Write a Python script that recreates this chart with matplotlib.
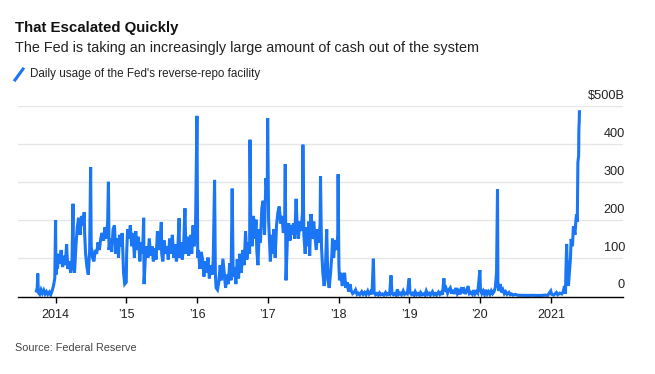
import pandas as pd
import numpy as np
import matplotlib
matplotlib.use('Agg')
import matplotlib.pyplot as plt
import matplotlib.dates as mdates
import matplotlib.transforms as mtransforms
from matplotlib.lines import Line2D

# daily usage of the Fed's overnight reverse-repo facility, $ billions
# (roughly weekly plus the quarter-end spikes)
days_2013 = ["09-23", "09-27", "09-30", "10-03", "10-10", "10-17", "10-24", "10-31",
             "11-07", "11-14", "11-21", "11-29", "12-06", "12-13", "12-20", "12-27", "12-31"]
vals_2013 = [12, 20, 58, 8, 3, 15, 6, 14, 4, 10, 3, 9, 2, 12, 25, 45, 198]

days_2014 = ["01-02", "01-07", "01-10", "01-15", "01-22", "01-29", "01-31", "02-05", "02-12",
             "02-19", "02-26", "02-28", "03-05", "03-12", "03-19", "03-26", "03-31", "04-03",
             "04-08", "04-15", "04-22", "04-29", "04-30", "05-07", "05-14", "05-21", "05-28",
             "05-30", "06-04", "06-11", "06-18", "06-25", "06-30", "07-03", "07-10", "07-17",
             "07-24", "07-31", "08-07", "08-14", "08-21", "08-28", "09-05", "09-12", "09-19",
             "09-26", "09-30", "10-03", "10-10", "10-17", "10-24", "10-31", "11-07", "11-14",
             "11-21", "11-26", "12-03", "12-10", "12-17", "12-23", "12-31"]
vals_2014 = [55, 95, 70, 110, 85, 120, 95, 75, 105, 80, 135, 110, 70, 90, 60, 95, 242, 75,
             60, 130, 180, 205, 190, 160, 210, 185, 220, 165, 110, 75, 55, 120, 339, 130, 100,
             90, 120, 110, 140, 120, 150, 165, 145, 180, 150, 195, 300, 120, 150, 115, 175,
             185, 110, 150, 100, 160, 130, 165, 60, 30, 35]

days_2015 = ["01-02", "01-07", "01-14", "01-21", "01-28", "02-04", "02-11", "02-18", "02-25",
             "03-04", "03-11", "03-18", "03-25", "03-31", "04-02", "04-08", "04-15", "04-22",
             "04-29", "05-06", "05-13", "05-20", "05-27", "06-03", "06-10", "06-17", "06-24",
             "06-30", "07-02", "07-08", "07-15", "07-22", "07-29", "08-05", "08-12", "08-19",
             "08-26", "09-02", "09-09", "09-16", "09-23", "09-30", "10-02", "10-09", "10-16",
             "10-23", "10-30", "11-04", "11-11", "11-18", "11-25", "11-30", "12-04", "12-11",
             "12-16", "12-23", "12-31"]
vals_2015 = [110, 175, 150, 185, 130, 165, 100, 170, 120, 155, 90, 140, 110, 205, 30, 95,
             130, 100, 150, 105, 130, 90, 125, 95, 170, 120, 140, 194, 110, 90, 145, 110, 130,
             95, 150, 110, 160, 100, 135, 90, 120, 204, 100, 140, 95, 125, 230, 110, 155, 105,
             130, 160, 110, 185, 130, 150, 474]

days_2016 = ["01-04", "01-08", "01-15", "01-22", "01-29", "02-05", "02-12", "02-19", "02-26",
             "02-29", "03-04", "03-11", "03-18", "03-24", "03-31", "04-04", "04-08", "04-15",
             "04-22", "04-29", "05-06", "05-13", "05-20", "05-27", "06-03", "06-10", "06-17",
             "06-24", "06-30", "07-05", "07-12", "07-19", "07-26", "08-02", "08-09", "08-16",
             "08-23", "08-31", "09-07", "09-14", "09-21", "09-28", "09-30", "10-04", "10-11",
             "10-18", "10-25", "10-31", "11-04", "11-10", "11-17", "11-23", "11-30", "12-07",
             "12-14", "12-21", "12-28", "12-30"]
vals_2016 = [100, 120, 70, 115, 95, 50, 90, 60, 100, 75, 45, 80, 55, 90, 305, 60, 20, 15,
             35, 80, 40, 97, 60, 20, 55, 30, 85, 40, 282, 50, 75, 30, 95, 45, 110, 60, 120, 80,
             170, 95, 140, 110, 411, 190, 130, 210, 150, 200, 120, 80, 175, 140, 230, 250, 160,
             310, 260, 468]

days_2017 = ["01-04", "01-09", "01-13", "01-20", "01-27", "01-31", "02-07", "02-14", "02-21",
             "02-28", "03-07", "03-14", "03-21", "03-28", "03-31", "04-04", "04-11", "04-18",
             "04-25", "04-28", "05-05", "05-12", "05-19", "05-26", "05-31", "06-07", "06-14",
             "06-21", "06-28", "06-30", "07-05", "07-12", "07-19", "07-26", "07-31", "08-04",
             "08-11", "08-18", "08-25", "08-31", "09-07", "09-14", "09-21", "09-27", "09-29",
             "10-04", "10-11", "10-18", "10-25", "10-31", "11-06", "11-13", "11-20", "11-27",
             "11-30", "12-06", "12-13", "12-20", "12-27", "12-29"]
vals_2017 = [200, 140, 90, 160, 110, 175, 100, 185, 220, 235, 190, 210, 165, 200, 347, 40,
             150, 190, 145, 185, 160, 190, 150, 255, 190, 150, 195, 170, 220, 398, 160, 110,
             180, 130, 195, 105, 215, 150, 195, 160, 120, 175, 140, 190, 315, 130, 60, 25, 80,
             175, 40, 20, 60, 110, 150, 100, 145, 120, 160, 320]

days_2018 = ["01-02", "01-05", "01-12", "01-19", "01-26", "01-31", "02-07", "02-14", "02-21",
             "02-28", "03-07", "03-14", "03-21", "03-29", "04-06", "04-13", "04-20", "04-30",
             "05-07", "05-15", "05-22", "05-31", "06-07", "06-15", "06-22", "06-29", "07-03",
             "07-10", "07-17", "07-24", "07-31", "08-07", "08-15", "08-22", "08-31", "09-07",
             "09-14", "09-21", "09-28", "10-03", "10-10", "10-17", "10-24", "10-31", "11-07",
             "11-14", "11-21", "11-30", "12-07", "12-14", "12-21", "12-31"]
vals_2018 = [80, 40, 60, 25, 45, 60, 20, 35, 10, 30, 12, 5, 8, 15, 3, 6, 2, 10, 3, 8, 2, 12,
             4, 10, 3, 97, 8, 2, 5, 1, 7, 2, 4, 1, 8, 2, 5, 3, 53, 6, 2, 5, 1, 16, 3, 6, 2, 12,
             3, 6, 4, 45]

days_2019 = ["01-04", "01-11", "01-18", "01-25", "01-31", "02-08", "02-15", "02-22", "02-28",
             "03-08", "03-15", "03-22", "03-29", "04-05", "04-12", "04-19", "04-30", "05-07",
             "05-14", "05-21", "05-31", "06-07", "06-14", "06-21", "06-28", "07-03", "07-10",
             "07-17", "07-24", "07-31", "08-07", "08-14", "08-21", "08-30", "09-06", "09-13",
             "09-20", "09-30", "10-04", "10-11", "10-18", "10-31", "11-07", "11-14", "11-22",
             "11-29", "12-06", "12-13", "12-20", "12-31"]
vals_2019 = [8, 3, 6, 1, 10, 2, 5, 1, 8, 2, 4, 1, 12, 3, 6, 1, 10, 2, 5, 1, 9, 3, 8, 2, 45,
             10, 18, 6, 15, 20, 5, 15, 4, 20, 5, 12, 3, 22, 6, 14, 4, 25, 5, 8, 3, 14, 4, 10, 6,
             67]

days_2020 = ["01-03", "01-10", "01-17", "01-24", "01-31", "02-07", "02-14", "02-21", "02-28",
             "03-06", "03-13", "03-20", "03-26", "03-31", "04-02", "04-07", "04-14", "04-21",
             "04-28", "05-05", "05-12", "05-19", "05-29", "06-05", "06-12", "06-19", "06-30",
             "07-15", "08-14", "09-15", "09-30", "10-15", "11-16", "11-30", "12-15", "12-31"]
vals_2020 = [15, 5, 12, 3, 15, 4, 10, 3, 12, 5, 10, 22, 60, 280, 35, 12, 30, 8, 15, 5, 10, 3,
             8, 2, 4, 1, 3, 0.5, 0.3, 0.2, 0.5, 0.1, 0.2, 1, 0.3, 12]

days_2021 = ["01-05", "01-15", "01-29", "02-05", "02-16", "02-26", "03-05", "03-12", "03-17",
             "03-19", "03-23", "03-26", "03-31", "04-01", "04-06", "04-12", "04-15", "04-22",
             "04-27", "04-30", "05-05", "05-10", "05-13", "05-17", "05-19", "05-20", "05-24",
             "05-25", "05-26", "05-27", "05-28"]
vals_2021 = [3, 1, 8, 2, 6, 4, 10, 25, 5, 60, 136, 80, 40, 25, 60, 100, 149, 130, 183, 175,
             160, 200, 214, 195, 294, 351, 369, 433, 450, 457, 485]

year_ticks = ["2014", "2015", "2016", "2017", "2018", "2019", "2020", "2021"]
year_labels = ["2014", "\u201915", "\u201916", "\u201917", "\u201918", "\u201919", "\u201920", "2021"]
y_levels = [0, 100, 200, 300, 400, 500]
y_labels = ["0", "100", "200", "300", "400", "$500B"]

title = "That Escalated Quickly"
subtitle = "The Fed is taking an increasingly large amount of cash out of the system"
legend_text = "Daily usage of the Fed's reverse-repo facility"
source = "Source: Federal Reserve"

BLUE = "#1a76f5"
FONT = ["Liberation Sans", "DejaVu Sans"]


def load_series():
  parts = [(2013, days_2013, vals_2013), (2014, days_2014, vals_2014),
           (2015, days_2015, vals_2015), (2016, days_2016, vals_2016),
           (2017, days_2017, vals_2017), (2018, days_2018, vals_2018),
           (2019, days_2019, vals_2019), (2020, days_2020, vals_2020),
           (2021, days_2021, vals_2021)]
  frames = []
  for year, days, vals in parts:
    frames.append(pd.DataFrame({"date": pd.to_datetime([str(year) + "-" + d for d in days]),
                                "usage": vals}))
  return pd.concat(frames, ignore_index=True)


def main():
  plt.rcParams['font.family'] = FONT
  df = load_series()

  fig = plt.figure(figsize=(6.55, 3.74), dpi=100)
  ax = fig.add_axes([18 / 655, (374 - 297) / 374, (623 - 18) / 655, (297 - 106) / 374])

  ax.plot(df["date"], df["usage"], color=BLUE, lw=2.2, solid_joinstyle='miter')

  ax.set_xlim(pd.Timestamp("2013-06-20"), pd.Timestamp("2022-01-08"))
  ax.set_ylim(-4, 500)

  for s in ["top", "left", "right"]:
    ax.spines[s].set_visible(False)
  ax.spines["bottom"].set_color("black")
  ax.spines["bottom"].set_linewidth(1)

  ax.set_yticks([])
  for lvl in y_levels[1:]:
    ax.axhline(lvl, color="#e6e6e6", lw=1, zorder=0)

  # value labels sit just above their gridlines, flush with the right edge
  trans = mtransforms.blended_transform_factory(ax.transAxes, ax.transData)
  trans = mtransforms.offset_copy(trans, fig=fig, x=2, y=7, units='dots')
  for lvl, lab in zip(y_levels, y_labels):
    ax.text(1.0, lvl, lab, transform=trans, ha='right', va='baseline',
            fontsize=9.2, color="#222222")

  ax.set_xticks(pd.to_datetime(year_ticks))
  ax.set_xticklabels(year_labels)
  ax.tick_params(axis='x', direction='out', length=4, width=1, color='black',
                 pad=5, labelsize=9, labelcolor="#222222")

  fig.text(15 / 655, 1 - 28 / 374, title, fontsize=10.8, fontweight='bold', va='center',
           color="#111111")
  fig.text(15 / 655, 1 - 48 / 374, subtitle, fontsize=10.4, va='center', color="#222222")
  fig.add_artist(Line2D([15 / 655, 23 / 655], [1 - 80 / 374, 1 - 69 / 374], color=BLUE,
                        lw=2.2, transform=fig.transFigure))
  fig.text(30 / 655, 1 - 74 / 374, legend_text, fontsize=8.4, va='center', color="#222222")
  fig.text(15 / 655, 1 - 348 / 374, source, fontsize=7.8, va='center', color="#444444")

  fig.savefig("out.png", dpi=100)


if __name__ == '__main__':
  main()
